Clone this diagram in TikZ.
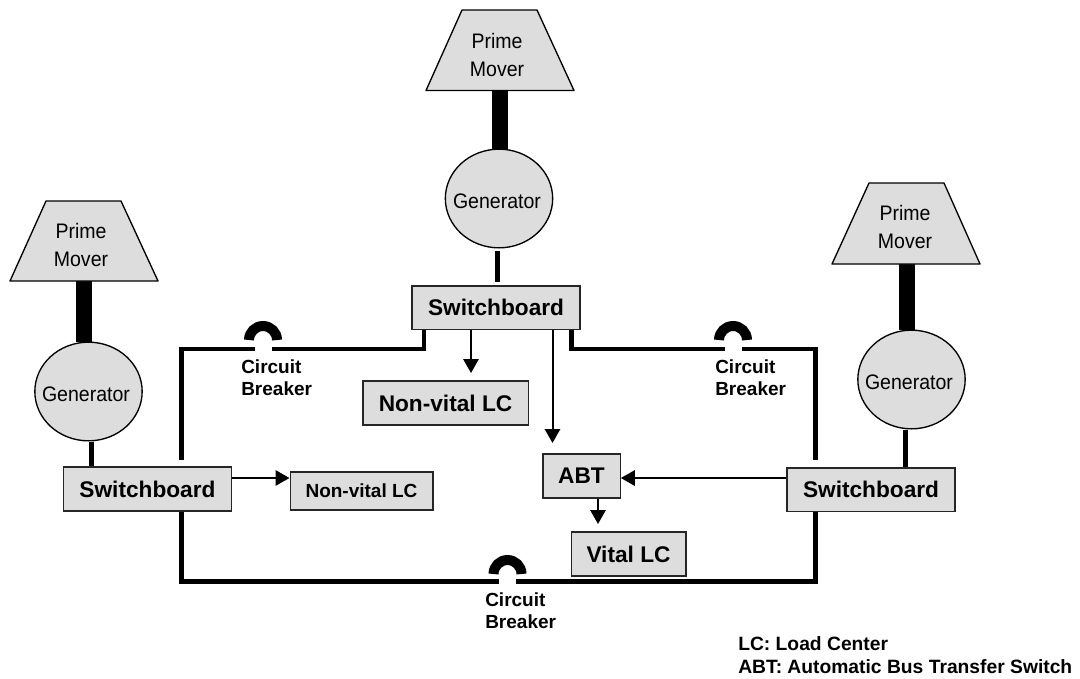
\documentclass[tikz,border=0pt]{standalone}
\usepackage{fontspec}
\setmainfont{Liberation Sans}
\newfontfamily\narrowf[FakeStretch=.93]{Liberation Sans}
\usetikzlibrary{shapes.geometric,arrows.meta,backgrounds}
\definecolor{boxgray}{HTML}{DDDDDD}
\tikzset{
  boxbase/.style={draw=black!85,line width=1pt,fill=boxgray,inner sep=0pt,rectangle},
  bigbox/.style={boxbase,font=\bfseries\fontsize{17}{20}\selectfont},
  smallbox/.style={boxbase,font=\bfseries\fontsize{14.25}{17}\selectfont},
  mover/.style={draw=black,line width=1pt,fill=boxgray,line join=round},
  gen/.style={ellipse,draw=black,line width=1pt,fill=boxgray,inner sep=0pt,minimum width=80.5pt,minimum height=74pt},
  plain/.style={inner sep=0pt,font=\narrowf\fontsize{15.75}{21}\selectfont,align=center},
  boldnote/.style={inner sep=0pt,font=\bfseries\fontsize{14.25}{17.2}\selectfont,align=left,anchor=north west},
  shaft/.style={line width=12pt},
  feeder/.style={line width=3.75pt},
  bus/.style={line width=3.6pt,line join=miter},
  breaker/.style={line width=7.5pt},
  flow/.style={line width=1.5pt,-{Triangle[length=10.5pt,width=11.5pt]}},
}
\begin{document}
\begin{tikzpicture}[x=0.75pt,y=-0.75pt]
\useasboundingbox (0,0) rectangle (1080,678);
% prime movers
\draw[mover] (462,10) -- (537,10) -- (574,90.5) -- (426,90.5) -- cycle;
\draw[mover] (46,201) -- (121,201) -- (158,281) -- (10,281) -- cycle;
\draw[mover] (869,183) -- (944,183) -- (980,264) -- (832,264) -- cycle;
\coordinate (baseC) at (500,90.5);
\coordinate (baseL) at (84,281);
\coordinate (baseR) at (907,264);
\node[plain] (pmCt) at (497,55) {Prime\\Mover};
\node[plain] (pmLt) at (81,245) {Prime\\Mover};
\node[plain] (pmRt) at (905,227) {Prime\\Mover};
% generators
\node[gen] (gC) at (499,198.5) {};
\node[gen] (gL) at (88.5,391.5) {};
\node[gen] (gR) at (911.5,379.5) {};
\node[plain] (gCt) at (497,201) {Generator};
\node[plain] (gLt) at (86,394) {Generator};
\node[plain] (gRt) at (909,382) {Generator};
% switchboards
\node[bigbox,minimum width=126pt,minimum height=32.5pt] (sC) at (496,307.5) {Switchboard};
\node[bigbox,minimum width=126pt,minimum height=33pt] (sL) at (147.5,489) {Switchboard};
\node[bigbox,minimum width=126pt,minimum height=32.5pt] (sR) at (871,489.5) {Switchboard};
% loads
\node[bigbox,minimum width=124pt,minimum height=33pt] (nvC) at (445.5,403) {Non-vital LC};
\node[smallbox,minimum width=107pt,minimum height=28.5pt] (nvL) at (361.5,491) {Non-vital LC};
\node[bigbox,minimum width=58pt,minimum height=33pt] (abt) at (581.5,476) {ABT};
\node[bigbox,minimum width=86pt,minimum height=33pt] (vital) at (628.5,554) {Vital LC};
% free ends and corners
\coordinate (tipNV) at (471,373);
\coordinate (tipABT) at (552.5,443);
\coordinate (tipV) at (598,524);
\coordinate (tl) at (181.5,349);
\coordinate (tr) at (815.5,349);
\coordinate (bl) at (181.5,581.5);
\coordinate (br) at (815.5,581.5);
\coordinate (lt) at (181.5,460);
\coordinate (rt) at (815.5,460);
\coordinate (ca) at (424,349);
\coordinate (cb) at (571.5,349);
\coordinate (cbLa) at (255,349);
\coordinate (cbLb) at (272,349);
\coordinate (cbRa) at (725,349);
\coordinate (cbRb) at (742,349);
\coordinate (cbBa) at (499,581.5);
\coordinate (cbBb) at (516,581.5);
\coordinate (arcL) at (249,340);
\coordinate (arcR) at (719,340);
\coordinate (arcB) at (493.5,574);
\begin{scope}[on background layer]
\draw[shaft] (baseC) -- (gC.north -| baseC);
\draw[shaft] (baseL) -- (gL.north -| baseL);
\draw[shaft] (baseR) -- (gR.north -| baseR);
\draw[feeder] ([yshift=-2pt]gC.south -| 497.5,0) -- ([yshift=2.25pt]sC.north -| 497.5,0);
\draw[feeder] (gL.south -| 91.5,0) -- (sL.north -| 91.5,0);
\draw[feeder] (gR.south -| 905.5,0) -- (sR.north -| 905.5,0);
\end{scope}
% bus
\draw[bus] (sC.south -| ca) -- (ca) -- (cbLb);
\draw[bus] (cbLa) -- (tl) -- (lt);
\draw[bus] (sC.south -| cb) -- (cb) -- (cbRa);
\draw[bus] (cbRb) -- (tr) -- (rt);
\draw[bus] (sL.south -| bl) -- (bl) -- (cbBa);
\draw[bus] (cbBb) -- (br) -- (sR.south -| br);
% breakers
\draw[breaker] (arcL) arc (180:360:14);
\draw[breaker] (arcR) arc (180:360:14);
\draw[breaker] (arcB) arc (180:360:14);
% flows
\draw[flow] (sC.south -| tipNV) -- (tipNV);
\draw[flow] (sC.south -| tipABT) -- (tipABT);
\draw[flow] (abt.south -| tipV) -- (tipV);
\draw[flow] (sR.west |- 0,478) -- (abt.east |- 0,478);
\draw[flow] (sL.east |- 0,478) -- (nvL.west |- 0,478);
% labels
\node[boldnote] (cbL) at (241,359) {Circuit\\Breaker};
\node[boldnote] (cbR) at (715,359) {Circuit\\Breaker};
\node[boldnote] (cbB) at (485,592) {Circuit\\Breaker};
\node[boldnote,font=\bfseries\fontsize{14.45}{17.2}\selectfont] (legend) at (738,636) {LC: Load Center\\ABT: Automatic Bus Transfer Switch};
\end{tikzpicture}
\end{document}
